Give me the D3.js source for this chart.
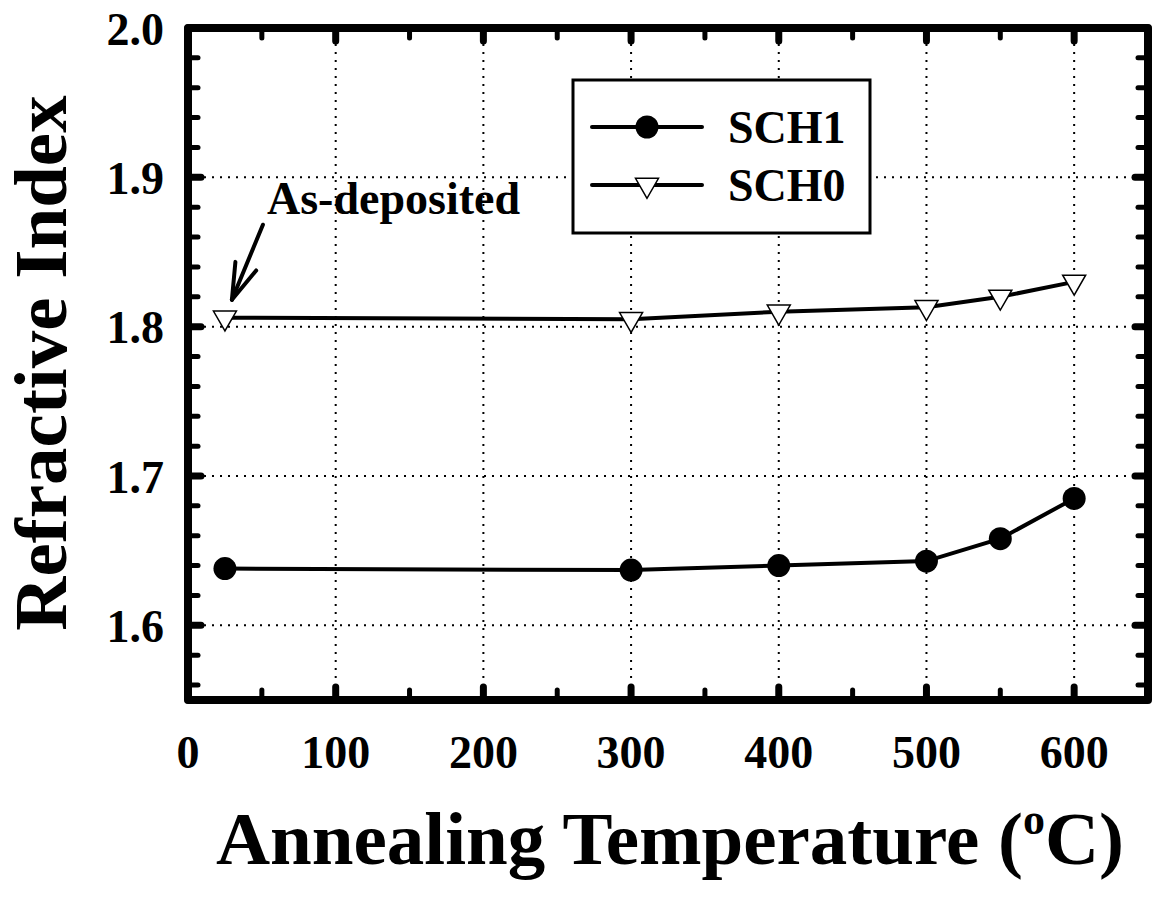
<!DOCTYPE html>
<html>
<head>
<meta charset="utf-8">
<script src="https://cdn.jsdelivr.net/npm/d3@7"></script>
<style>
  html, body { margin: 0; padding: 0; background: #fff; }
  svg { display: block; }
  text { font-family: "Liberation Serif", "Times New Roman", Times, serif; font-weight: bold; fill: #000; }
</style>
</head>
<body>
<script>
// ---- data ----
const temps = [25, 300, 400, 500, 550, 600];
const sch1 = [1.638, 1.637, 1.640, 1.643, 1.658, 1.685];
const sch0 = [1.806, 1.805, 1.810, 1.813, 1.820, 1.830];
const seriesNames = ["SCH1", "SCH0"];
const xTickValues = [0, 100, 200, 300, 400, 500, 600];
const xMinorValues = [50, 150, 250, 350, 450, 550];
const yTickValues = [1.6, 1.7, 1.8, 1.9, 2.0];
const yMinorValues = [1.56, 1.58, 1.62, 1.64, 1.66, 1.68, 1.72, 1.74, 1.76, 1.78, 1.82, 1.84, 1.86, 1.88, 1.92, 1.94, 1.96, 1.98];
const xGridValues = [100, 200, 300, 400, 500, 600];
const yGridValues = [1.6, 1.7, 1.8, 1.9];
const xTitle = "Annealing Temperature (";
const yTitle = "Refractive Index";
const annotation = "As-deposited";

const W = 1152, H = 897;
const L = 188, R = 1148, T = 28, B = 700;

const svg = d3.select("body").append("svg").attr("width", W).attr("height", H);

const x = d3.scaleLinear().domain([0, 650]).range([L, R]);
const y = d3.scaleLinear().domain([1.55, 2.0]).range([B, T]);

// grid
const grid = svg.append("g").attr("stroke", "#000").attr("stroke-width", 2).attr("stroke-dasharray", "2,6");
grid.selectAll("line.vx").data(xGridValues).join("line")
  .attr("x1", d => x(d)).attr("x2", d => x(d)).attr("y1", T).attr("y2", B);
grid.selectAll("line.hy").data(yGridValues).join("line")
  .attr("x1", L).attr("x2", R).attr("y1", d => y(d)).attr("y2", d => y(d));

// ticks (inward, all four sides)
function ticks(vals, len, w) {
  const g = svg.append("g").attr("stroke", "#000").attr("stroke-width", w).attr("stroke-linecap", "round");
  vals.forEach(v => {
    g.append("line").attr("x1", x(v)).attr("x2", x(v)).attr("y1", B).attr("y2", B - len);
    g.append("line").attr("x1", x(v)).attr("x2", x(v)).attr("y1", T).attr("y2", T + len);
  });
  return g;
}
function yticks(vals, len, w) {
  const g = svg.append("g").attr("stroke", "#000").attr("stroke-width", w).attr("stroke-linecap", "round");
  vals.forEach(v => {
    g.append("line").attr("y1", y(v)).attr("y2", y(v)).attr("x1", L).attr("x2", L + len);
    g.append("line").attr("y1", y(v)).attr("y2", y(v)).attr("x1", R).attr("x2", R - len);
  });
}
ticks(xTickValues, 13, 7);
ticks(xMinorValues, 10, 5);
yticks(yTickValues, 13, 7);
yticks(yMinorValues, 10, 5);

// frame
svg.append("rect").attr("x", L).attr("y", T).attr("width", R - L).attr("height", B - T)
  .attr("fill", "none").attr("stroke", "#000").attr("stroke-width", 8).attr("stroke-linejoin", "round");

// tick labels
svg.append("g").selectAll("text").data(xTickValues).join("text")
  .attr("x", d => x(d)).attr("y", 768).attr("text-anchor", "middle")
  .style("font-size", "46px").text(d => d);
svg.append("g").selectAll("text").data(yTickValues).join("text")
  .attr("x", 164).attr("y", d => y(d)).attr("dy", "0.36em").attr("text-anchor", "end")
  .style("font-size", "46px").text(d => d.toFixed(1));

// lines
const line = d3.line().x(d => x(d[0])).y(d => y(d[1]));
const d1 = temps.map((t, i) => [t, sch1[i]]);
const d0 = temps.map((t, i) => [t, sch0[i]]);
svg.append("path").datum(d1).attr("d", line).attr("fill", "none").attr("stroke", "#000").attr("stroke-width", 4);
svg.append("path").datum(d0).attr("d", line).attr("fill", "none").attr("stroke", "#000").attr("stroke-width", 4);

const circ = d3.symbol().type(d3.symbolCircle).size(415);
const tri = d3.symbol().type(d3.symbolTriangle).size(229);
svg.append("g").selectAll("path").data(d1).join("path")
  .attr("d", circ).attr("transform", d => `translate(${x(d[0])},${y(d[1])})`).attr("fill", "#000");
svg.append("g").selectAll("path").data(d0).join("path")
  .attr("d", tri).attr("transform", d => `translate(${x(d[0])},${y(d[1])}) rotate(180)`)
  .attr("fill", "#fff").attr("stroke", "#000").attr("stroke-width", 1.5);

// legend
const lg = svg.append("g");
lg.append("rect").attr("x", 573).attr("y", 80).attr("width", 297).attr("height", 153)
  .attr("fill", "#fff").attr("stroke", "#000").attr("stroke-width", 3);
const rows = [127, 185];
rows.forEach((ry, i) => {
  lg.append("line").attr("x1", 592).attr("x2", 702).attr("y1", ry).attr("y2", ry)
    .attr("stroke", "#000").attr("stroke-width", 4).attr("stroke-linecap", "round");
  if (i === 0) {
    lg.append("path").attr("d", circ).attr("transform", `translate(647,${ry})`).attr("fill", "#000");
  } else {
    lg.append("path").attr("d", tri).attr("transform", `translate(647,${ry}) rotate(180)`)
      .attr("fill", "#fff").attr("stroke", "#000").attr("stroke-width", 1.5);
  }
  lg.append("text").attr("x", 728).attr("y", ry + 16).style("font-size", "46px").text(seriesNames[i]);
});

// annotation
svg.append("text").attr("x", 267).attr("y", 214).style("font-size", "46px").text(annotation);
const tipX = x(temps[0]) + 7, tipY = y(sch0[0]) - 18;
const tailX = tipX + 31, tailY = tipY - 75;
const ang = Math.atan2(tailY - tipY, tailX - tipX);
const ah = svg.append("g").attr("stroke", "#000").attr("stroke-width", 4).attr("stroke-linecap", "round");
ah.append("line").attr("x1", tipX).attr("y1", tipY).attr("x2", tailX).attr("y2", tailY);
[-0.3, 0.3].forEach(da => {
  ah.append("line").attr("x1", tipX).attr("y1", tipY)
    .attr("x2", tipX + 38 * Math.cos(ang + da)).attr("y2", tipY + 38 * Math.sin(ang + da));
});

// axis titles
const xt = svg.append("text").attr("x", 670).attr("y", 864).attr("text-anchor", "middle").style("font-size", "75px");
xt.append("tspan").text(xTitle);
xt.append("tspan").attr("dy", -30).style("font-size", "44px").text("o");
xt.append("tspan").attr("dy", 30).text("C)");

svg.append("text").attr("transform", "translate(66,363) rotate(-90)").attr("text-anchor", "middle")
  .style("font-size", "75px").text(yTitle);
</script>
</body>
</html>
